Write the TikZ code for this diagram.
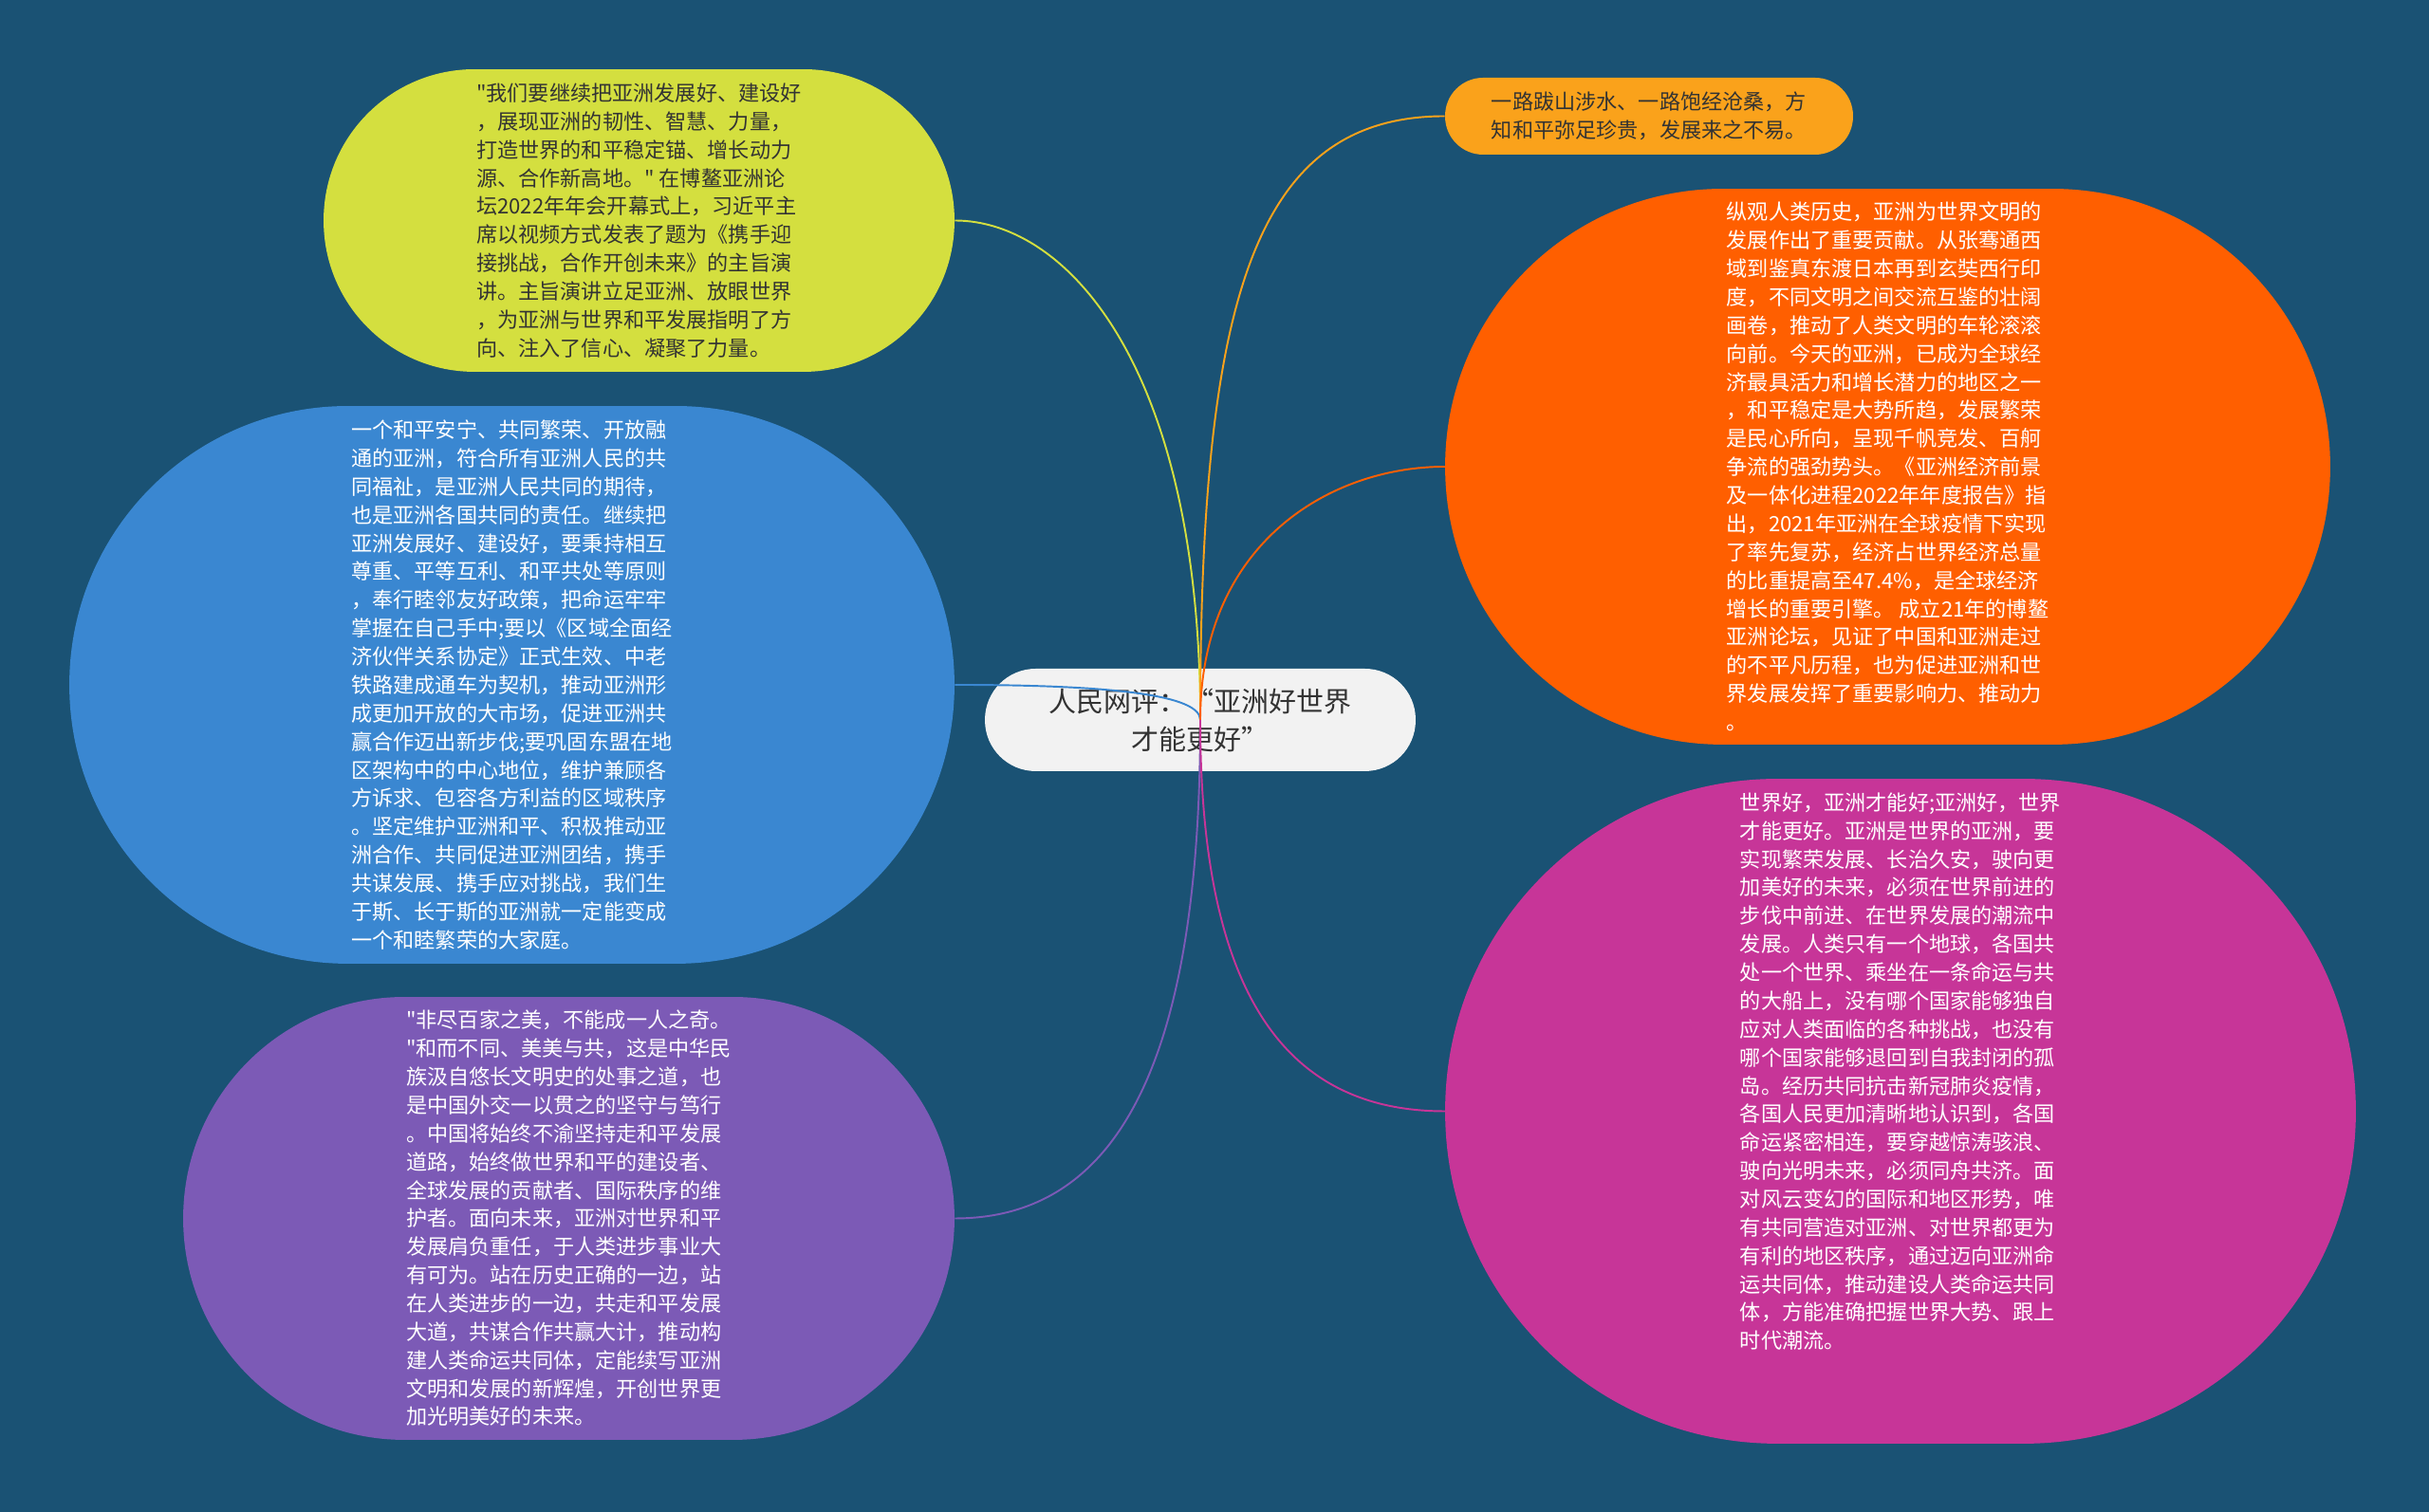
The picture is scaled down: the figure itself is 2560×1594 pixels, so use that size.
\documentclass[tikz,border=0pt]{standalone}
\usepackage{fontspec}
\setmainfont{Noto Sans CJK SC}[Ligatures=TeXOff]
\usepackage{xcolor}
\usetikzlibrary{positioning}

\definecolor{bgblue}{HTML}{1A5274}
\definecolor{leafyellow}{HTML}{D4DF3F}
\definecolor{leafblue}{HTML}{3A87D1}
\definecolor{leafpurple}{HTML}{7C5AB6}
\definecolor{leaforange}{HTML}{FAA21B}
\definecolor{leafred}{HTML}{FF5F00}
\definecolor{leafmagenta}{HTML}{C73598}
\definecolor{rootgray}{HTML}{F2F2F2}
\definecolor{inkgray}{HTML}{333333}

\begin{document}
\begin{tikzpicture}[
  x=0.02cm, y=0.02cm,
  bubble/.style={inner sep=0pt, align=left, text=white,
                 font=\fontsize{12.6pt}{17pt}\selectfont},
  ybox/.style={bubble, fill=leafyellow, text=inkgray},
  bbox/.style={bubble, fill=leafblue},
  pbox/.style={bubble, fill=leafpurple},
  obox/.style={bubble, fill=leaforange, text=inkgray},
  rbox/.style={bubble, fill=leafred},
  mbox/.style={bubble, fill=leafmagenta},
  rootbox/.style={inner sep=0pt, align=center, fill=rootgray, text=inkgray,
                  font=\fontsize{16.5pt}{22.8pt}\selectfont},
  branch/.style={line width=1.1pt},
]

% background and page size
\fill[bgblue] (0,0) rectangle (2560,1594);
\useasboundingbox (0,0) rectangle (2560,1594);

% centre topic
\node[rootbox, minimum width=9.08cm, minimum height=2.16cm, rounded corners=1.07cm]
  (root) at (1265,835) {人民网评：“亚洲好世界\\才能更好”};

% left side
\node[ybox, minimum width=13.3cm, minimum height=6.38cm, rounded corners=3.18cm]
  (quote) at (673.5,1361.5) {"我们要继续把亚洲发展好、建设好\\，展现亚洲的韧性、智慧、力量，\\打造世界的和平稳定锚、增长动力\\源、合作新高地。" 在博鳌亚洲论\\坛2022年年会开幕式上，习近平主\\席以视频方式发表了题为《携手迎\\接挑战，合作开创未来》的主旨演\\讲。主旨演讲立足亚洲、放眼世界\\，为亚洲与世界和平发展指明了方\\向、注入了信心、凝聚了力量。};

\node[bbox, minimum width=18.66cm, minimum height=11.76cm, rounded corners=5.87cm]
  (unity) at (539.5,872) {一个和平安宁、共同繁荣、开放融\\通的亚洲，符合所有亚洲人民的共\\同福祉，是亚洲人民共同的期待，\\也是亚洲各国共同的责任。继续把\\亚洲发展好、建设好，要秉持相互\\尊重、平等互利、和平共处等原则\\，奉行睦邻友好政策，把命运牢牢\\掌握在自己手中;要以《区域全面经\\济伙伴关系协定》正式生效、中老\\铁路建成通车为契机，推动亚洲形\\成更加开放的大市场，促进亚洲共\\赢合作迈出新步伐;要巩固东盟在地\\区架构中的中心地位，维护兼顾各\\方诉求、包容各方利益的区域秩序\\。坚定维护亚洲和平、积极推动亚\\洲合作、共同促进亚洲团结，携手\\共谋发展、携手应对挑战，我们生\\于斯、长于斯的亚洲就一定能变成\\一个和睦繁荣的大家庭。};

\node[pbox, minimum width=16.26cm, minimum height=9.34cm, rounded corners=4.66cm]
  (harmony) at (599.5,309.5) {"非尽百家之美，不能成一人之奇。\\"和而不同、美美与共，这是中华民\\族汲自悠长文明史的处事之道，也\\是中国外交一以贯之的坚守与笃行\\。中国将始终不渝坚持走和平发展\\道路，始终做世界和平的建设者、\\全球发展的贡献者、国际秩序的维\\护者。面向未来，亚洲对世界和平\\发展肩负重任，于人类进步事业大\\有可为。站在历史正确的一边，站\\在人类进步的一边，共走和平发展\\大道，共谋合作共赢大计，推动构\\建人类命运共同体，定能续写亚洲\\文明和发展的新辉煌，开创世界更\\加光明美好的未来。};

% right side
\node[obox, minimum width=8.6cm, minimum height=1.62cm, rounded corners=0.8cm]
  (journey) at (1738,1471.5) {一路跋山涉水、一路饱经沧桑，方\\知和平弥足珍贵，发展来之不易。};

\node[rbox, minimum width=18.66cm, minimum height=11.72cm, rounded corners=5.85cm]
  (history) at (1989.5,1102) {纵观人类历史，亚洲为世界文明的\\发展作出了重要贡献。从张骞通西\\域到鉴真东渡日本再到玄奘西行印\\度，不同文明之间交流互鉴的壮阔\\画卷，推动了人类文明的车轮滚滚\\向前。今天的亚洲，已成为全球经\\济最具活力和增长潜力的地区之一\\，和平稳定是大势所趋，发展繁荣\\是民心所向，呈现千帆竞发、百舸\\争流的强劲势头。《亚洲经济前景\\及一体化进程2022年年度报告》指\\出，2021年亚洲在全球疫情下实现\\了率先复苏，经济占世界经济总量\\的比重提高至47.4\%，是全球经济\\增长的重要引擎。 成立21年的博鳌\\亚洲论坛，见证了中国和亚洲走过\\的不平凡历程，也为促进亚洲和世\\界发展发挥了重要影响力、推动力\\。};

% text sits a little above the middle here
\node[mbox, minimum width=19.2cm, minimum height=14.02cm, rounded corners=7cm,
      text height=286pt, text depth=1pt]
  (world) at (2003,422.5) {世界好，亚洲才能好;亚洲好，世界\\才能更好。亚洲是世界的亚洲，要\\实现繁荣发展、长治久安，驶向更\\加美好的未来，必须在世界前进的\\步伐中前进、在世界发展的潮流中\\发展。人类只有一个地球，各国共\\处一个世界、乘坐在一条命运与共\\的大船上，没有哪个国家能够独自\\应对人类面临的各种挑战，也没有\\哪个国家能够退回到自我封闭的孤\\岛。经历共同抗击新冠肺炎疫情，\\各国人民更加清晰地认识到，各国\\命运紧密相连，要穿越惊涛骇浪、\\驶向光明未来，必须同舟共济。面\\对风云变幻的国际和地区形势，唯\\有共同营造对亚洲、对世界都更为\\有利的地区秩序，通过迈向亚洲命\\运共同体，推动建设人类命运共同\\体，方能准确把握世界大势、跟上\\时代潮流。};

% branches, drawn over the centre topic
\draw[branch, leafyellow]  (root.center) .. controls +(0,369)  and +(120,0)  .. (quote.east);
\draw[branch, leafblue]    (root.center) .. controls +(0,26)   and +(168,0)  .. (unity.east);
\draw[branch, leafpurple]  (root.center) .. controls +(0,-368) and +(168,0)  .. (harmony.east);
\draw[branch, leaforange]  (root.center) .. controls +(0,446)  and +(-200,0) .. (journey.west);
\draw[branch, leafred]     (root.center) .. controls +(0,187)  and +(-120,0) .. (history.west);
\draw[branch, leafmagenta] (root.center) .. controls +(0,-289) and +(-168,0) .. (world.west);

\end{tikzpicture}
\end{document}
